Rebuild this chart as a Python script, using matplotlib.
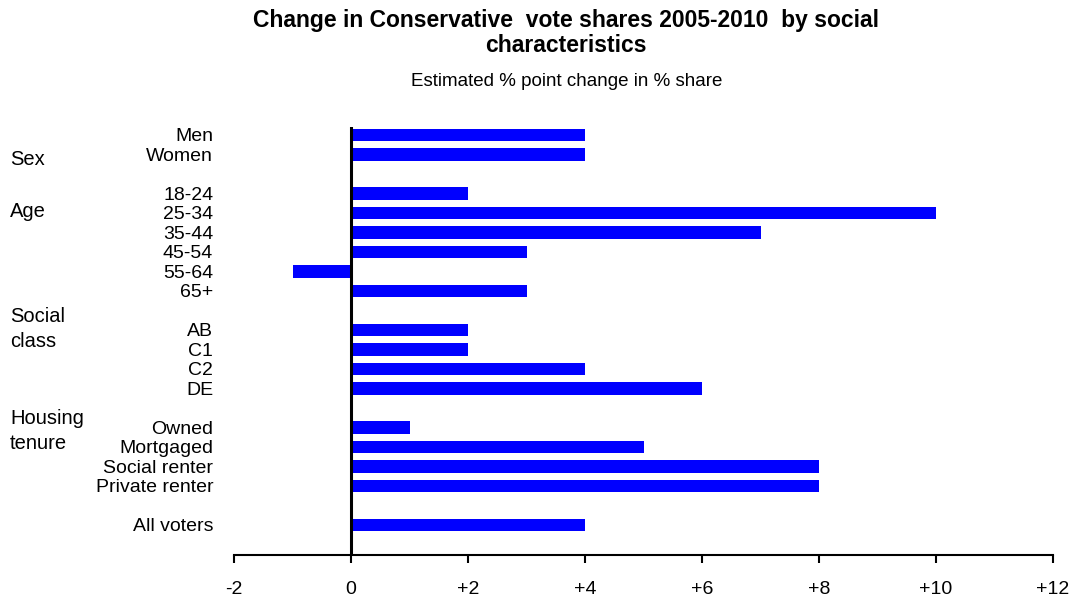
import matplotlib.pyplot as plt
import numpy as np

# data
categories = ["Men", "Women", "", "18-24", "25-34", "35-44", "45-54", "55-64", "65+", "",
              "AB", "C1", "C2", "DE", "", "Owned", "Mortgaged", "Social renter",
              "Private renter", "", "All voters"]
values = [4, 4, np.nan, 2, 10, 7, 3, -1, 3, np.nan,
          2, 2, 4, 6, np.nan, 1, 5, 8, 8, np.nan, 4]
xticks = [-2, 0, 2, 4, 6, 8, 10, 12]
xtick_labels = ["-2", "0", "+2", "+4", "+6", "+8", "+10", "+12"]
groups = [("Sex", 160), ("Age", 212), ("Social\nclass", 329), ("Housing\ntenure", 431)]

plt.rcParams['font.family'] = ['Liberation Sans', 'DejaVu Sans']

fig = plt.figure(figsize=(10.76, 6), dpi=100)
ax = fig.add_axes([234 / 1076, 45 / 600, (1053 - 234) / 1076, (555 - 127) / 600])

ypos = np.arange(len(categories))
vals = np.array(values, dtype=float)
mask = ~np.isnan(vals)
ax.barh(ypos[mask], vals[mask], height=0.65, color='#0000ff', zorder=2)
ax.axvline(0, color='black', lw=2.2, zorder=3)

ax.set_xlim(-2, 12)
ax.set_ylim(21.54, -0.41)
ax.set_xticks(xticks)
ax.set_xticklabels(xtick_labels, fontsize=14)
ax.set_yticks(ypos[mask])
ax.set_yticklabels([c for c, m in zip(categories, mask) if m], fontsize=14)
ax.tick_params(axis='y', length=0, pad=15)
ax.tick_params(axis='x', length=6, width=1.5, pad=13)
for s in ['left', 'top', 'right']:
    ax.spines[s].set_visible(False)
ax.spines['bottom'].set_linewidth(1.5)

for txt, y in groups:
    fig.text(10 / 1076, 1 - y / 600, txt, fontsize=14.5, va='center', ha='left',
             linespacing=1.4)

fig.text(566 / 1076, 1 - 33 / 600, "Change in Conservative  vote shares 2005-2010  by social\ncharacteristics",
         fontsize=16.5, fontweight='bold', ha='center', va='center', linespacing=1.1)
fig.text(567 / 1076, 1 - 81 / 600, "Estimated % point change in % share",
         fontsize=13.5, ha='center', va='center')

fig.savefig('out.png', dpi=100)
